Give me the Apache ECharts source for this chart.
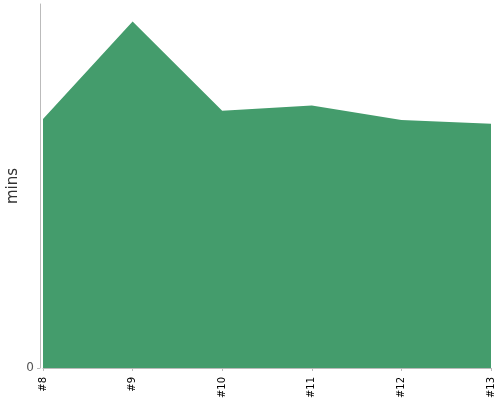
<!DOCTYPE html>
<html>
<head>
<meta charset="utf-8">
<script src="https://cdn.jsdelivr.net/npm/echarts@6/dist/echarts.min.js"></script>
<style>
  html, body { margin: 0; padding: 0; background: #fff; }
  #chart { width: 500px; height: 400px; }
</style>
</head>
<body>
<div id="chart"></div>
<script>
const builds = ['#8', '#9', '#10', '#11', '#12', '#13'];
const durations = [68.4, 95.2, 70.7, 72.1, 68.1, 67.1];
const yTicks = [0];

const drawChart = (domElement) => {
  const chart = echarts.init(domElement);
  const option = {
    animation: false,
    textStyle: { fontFamily: 'DejaVu Sans' },
    grid: { left: 43, right: 9, top: 4, bottom: 32, outerBoundsMode: 'none', containLabel: false },
    xAxis: {
      type: 'category',
      data: builds,
      boundaryGap: false,
      offset: 3,
      axisLine: { lineStyle: { color: '#bbb' } },
      axisTick: { alignWithLabel: true, length: 3, lineStyle: { color: '#bbb' } },
      axisLabel: { rotate: 90, fontSize: 10, color: '#000', margin: 6 },
      splitLine: { show: false },
    },
    yAxis: {
      type: 'value',
      min: 0,
      max: 100,
      offset: 3,
      name: 'mins',
      nameLocation: 'middle',
      nameGap: 19,
      nameMoveOverlap: false,
      nameTextStyle: { fontSize: 15, color: '#333' },
      axisLine: { show: true, lineStyle: { color: '#bbb' } },
      axisTick: { show: true, length: 3, customValues: yTicks, lineStyle: { color: '#bbb' } },
      axisLabel: { fontSize: 12, color: '#555', margin: 6, customValues: yTicks },
      splitLine: { show: false },
    },
    series: [{
      type: 'line',
      data: durations,
      symbol: 'none',
      lineStyle: { width: 0 },
      areaStyle: { color: '#449c6c', opacity: 1 },
    }],
  };
  chart.setOption(option);
};

drawChart(document.querySelector('#chart'));
</script>
</body>
</html>
